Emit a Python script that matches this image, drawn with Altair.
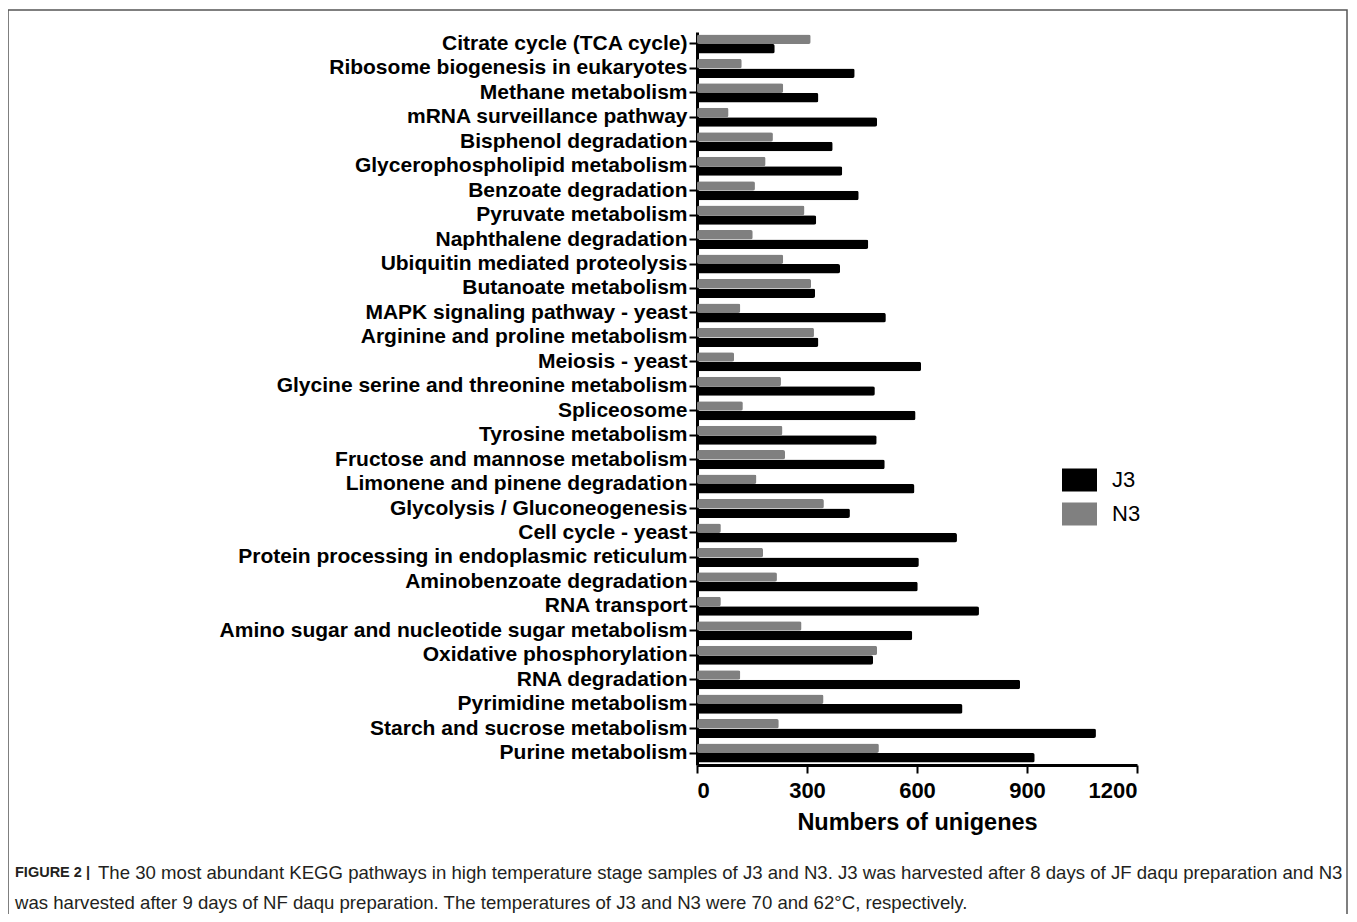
import altair as alt
import pandas as pd

categories = [
    "Citrate cycle (TCA cycle)", "Ribosome biogenesis in eukaryotes", "Methane metabolism",
    "mRNA surveillance pathway", "Bisphenol degradation", "Glycerophospholipid metabolism",
    "Benzoate degradation", "Pyruvate metabolism", "Naphthalene degradation",
    "Ubiquitin mediated proteolysis", "Butanoate metabolism", "MAPK signaling pathway - yeast",
    "Arginine and proline metabolism", "Meiosis - yeast", "Glycine serine and threonine metabolism",
    "Spliceosome", "Tyrosine metabolism", "Fructose and mannose metabolism",
    "Limonene and pinene degradation", "Glycolysis / Gluconeogenesis", "Cell cycle - yeast",
    "Protein processing in endoplasmic reticulum", "Aminobenzoate degradation", "RNA transport",
    "Amino sugar and nucleotide sugar metabolism", "Oxidative phosphorylation", "RNA degradation",
    "Pyrimidine metabolism", "Starch and sucrose metabolism", "Purine metabolism",
]
j3_values = [212, 430, 331, 491, 370, 396, 441, 325, 467, 390, 322, 515, 331, 611, 485,
             596, 490, 512, 593, 417, 709, 605, 602, 769, 587, 480, 881, 724, 1088, 921]
n3_values = [310, 122, 235, 86, 207, 187, 158, 293, 152, 235, 311, 118, 319, 101, 229,
             125, 233, 240, 162, 346, 65, 180, 218, 65, 285, 491, 118, 345, 223, 496]
series = ["J3", "N3"]
series_colors = ["#000000", "#808080"]
x_ticks = [0, 300, 600, 900, 1200]

caption_bold = "FIGURE 2 |"
caption_line1 = ("The 30 most abundant KEGG pathways in high temperature stage samples of J3 and N3. "
                 "J3 was harvested after 8 days of JF daqu preparation and N3")
caption_line2 = ("was harvested after 9 days of NF daqu preparation. The temperatures of J3 and N3 "
                 "were 70 and 62\u00b0C, respectively.")

rows = []
for c, j, n in zip(categories, j3_values, n3_values):
    rows.append({"pathway": c, "sample": "J3", "value": j})
    rows.append({"pathway": c, "sample": "N3", "value": n})
df = pd.DataFrame(rows)

W, H = 440, 733
PL, PT = 689, 24

bars = alt.Chart(df).mark_bar(cornerRadius=2).encode(
    x=alt.X("value:Q", scale=alt.Scale(domain=[0, 1200], nice=False),
            axis=alt.Axis(values=x_ticks, title="Numbers of unigenes", format="d")),
    y=alt.Y("pathway:N", sort=categories, title=None,
            scale=alt.Scale(paddingInner=0.22, paddingOuter=0.1)),
    yOffset=alt.YOffset("sample:N", sort=["N3", "J3"], scale=alt.Scale(paddingInner=0.0)),
    color=alt.Color("sample:N", scale=alt.Scale(domain=series, range=series_colors),
                    legend=alt.Legend(title=None, orient="none", legendX=365, legendY=431,
                                      symbolType="M-1,-0.657H1V0.657H-1Z", symbolSize=1225,
                                      symbolStrokeWidth=0, clipHeight=34, rowPadding=0,
                                      labelFontSize=22, labelFont="Liberation Sans",
                                      labelColor="#000", labelOffset=15)),
)

one = pd.DataFrame({"a": [0]})
border = alt.Chart(one).mark_rect(fill=None, stroke="#555", strokeWidth=1.5).encode(
    x=alt.value(-689), x2=alt.value(650), y=alt.value(-22), y2=alt.value(960)
)
cap_b = alt.Chart(one).mark_text(align="left", baseline="middle", fontWeight="bold",
                                 font="Liberation Sans", fontSize=14.5, color="#231f20").encode(
    x=alt.value(-682), y=alt.value(841), text=alt.value(caption_bold)
)
cap1 = alt.Chart(one).mark_text(align="left", baseline="middle",
                                font="Liberation Sans", fontSize=18.6, color="#231f20").encode(
    x=alt.value(-599), y=alt.value(841), text=alt.value(caption_line1)
)
cap2 = alt.Chart(one).mark_text(align="left", baseline="middle",
                                font="Liberation Sans", fontSize=18.6, color="#231f20").encode(
    x=alt.value(-682), y=alt.value(871), text=alt.value(caption_line2)
)

chart = alt.layer(border, bars, cap_b, cap1, cap2).properties(
    width=W, height=H,
    autosize=alt.AutoSizeParams(type="none"),
    padding={"left": PL, "top": PT, "right": 212, "bottom": 149},
).configure_view(stroke=None).configure_axis(
    grid=False, domainColor="#000", domainWidth=3, tickColor="#000", tickWidth=2,
    tickSize=8, labelColor="#000", titleColor="#000", labelFont="Liberation Sans",
    titleFont="Liberation Sans",
).configure_axisY(
    labelFontSize=21, labelFontWeight="bold", labelPadding=2, labelLimit=800,
).configure_axisX(
    labelFontSize=22, labelFontWeight="bold", labelPadding=7, titleFontSize=23.5,
    titleFontWeight="bold", titlePadding=9,
)

chart.save("out.html", embed_options={"renderer": "svg", "actions": False})
